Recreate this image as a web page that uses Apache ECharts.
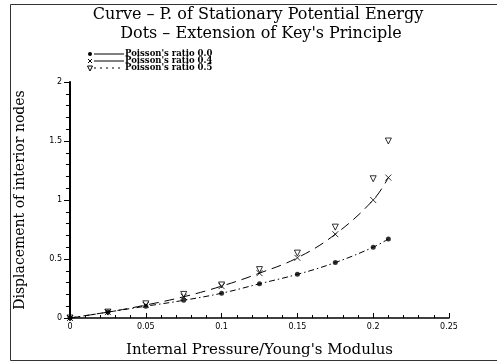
<!DOCTYPE html>
<html><head><meta charset="utf-8">
<script src="https://cdn.jsdelivr.net/npm/echarts@6/dist/echarts.min.js"></script>
<style>html,body{margin:0;padding:0;background:#fff}#c{width:497px;height:363px}</style>
</head><body><div id="c"></div>
<script>
const xValues = [0, 0.025, 0.05, 0.075, 0.1, 0.125, 0.15, 0.175, 0.2, 0.21];
const nu00 = [0, 0.05, 0.10, 0.15, 0.21, 0.29, 0.37, 0.47, 0.60, 0.67];
const nu04 = [0, 0.05, 0.11, 0.18, 0.27, 0.38, 0.51, 0.71, 1.00, 1.19];
const nu05 = [0, 0.05, 0.12, 0.20, 0.28, 0.41, 0.55, 0.77, 1.18, 1.50];
const legendNames = ["Poisson's ratio 0.0", "Poisson's ratio 0.4", "Poisson's ratio 0.5"];
const titleLines = ["Curve \u2013 P. of Stationary Potential Energy", "Dots \u2013 Extension of Key's Principle"];

const pairs = arr => xValues.map((x, i) => [x, arr[i]]);
const crossPath = 'path://M0,0L10,10M10,0L0,10';
const triPath = 'path://M0,0L10,0L5,10Z';

const chart = echarts.init(document.getElementById('c'), null, {renderer: 'canvas'});
const serif = 'DejaVu Serif';
const small = 'DejaVu Sans';

function legendRow(y, idx, dashed) {
  const els = [];
  els.push({type: 'line', shape: {x1: 94, y1: y, x2: 124, y2: y},
    style: {stroke: '#000', lineWidth: 1, lineDash: dashed ? [2, 4] : null}});
  els.push({type: 'text', left: 125, top: y - 5,
    style: {text: legendNames[idx], font: 'bold 8.5px "DejaVu Serif"', fill: '#000'}});
  return els;
}

const graphic = [
  {type: 'polyline', shape: {points: [[497, 4.5], [10.5, 4.5], [10.5, 360.5], [497, 360.5]]},
   style: {stroke: '#333', lineWidth: 1, fill: null}},
  {type: 'text', x: 258, y: 15, style: {text: titleLines[0], font: '16px "DejaVu Serif"', fill: '#000', align: 'center', verticalAlign: 'middle'}},
  {type: 'text', x: 261, y: 34, style: {text: titleLines[1], font: '16px "DejaVu Serif"', fill: '#000', align: 'center', verticalAlign: 'middle'}},
  {type: 'circle', shape: {cx: 90, cy: 54, r: 2}, style: {fill: '#000'}},
  {type: 'line', shape: {x1: 88, y1: 59, x2: 92, y2: 63}, style: {stroke: '#000', lineWidth: 1}},
  {type: 'line', shape: {x1: 92, y1: 59, x2: 88, y2: 63}, style: {stroke: '#000', lineWidth: 1}},
  {type: 'polygon', shape: {points: [[87.5, 66], [92.5, 66], [90, 71]]}, style: {fill: null, stroke: '#000', lineWidth: 1}},
  ...legendRow(54, 0, false),
  ...legendRow(61, 1, false),
  ...legendRow(68, 2, true)
];

chart.setOption({
  animation: false,
  backgroundColor: '#fff',
  graphic: graphic,
  grid: {left: 70, top: 82, right: 48, bottom: 45, containLabel: false},
  xAxis: {
    type: 'value', min: 0, max: 0.25, interval: 0.05,
    name: 'Internal Pressure/Young\'s Modulus', nameLocation: 'middle', nameGap: 25,
    nameTextStyle: {fontFamily: serif, fontSize: 15, color: '#000'},
    axisLine: {lineStyle: {color: '#000', width: 1.5}},
    axisTick: {inside: true, length: 5, lineStyle: {color: '#000'}},
    minorTick: {show: true, splitNumber: 5, length: 3, lineStyle: {color: '#000'}},
    splitLine: {show: false},
    axisLabel: {fontFamily: small, fontSize: 8, color: '#000', margin: 5}
  },
  yAxis: {
    type: 'value', min: 0, max: 2, interval: 0.5,
    name: 'Displacement of interior nodes', nameLocation: 'middle', nameGap: 43, nameRotate: 90,
    nameTextStyle: {fontFamily: serif, fontSize: 14, color: '#000'},
    axisLine: {lineStyle: {color: '#000', width: 2}},
    axisTick: {inside: false, length: 6, lineStyle: {color: '#000'}},
    minorTick: {show: true, splitNumber: 5, length: 4, lineStyle: {color: '#000'}},
    splitLine: {show: false},
    axisLabel: {fontFamily: small, fontSize: 8, color: '#000', margin: 8}
  },
  series: [
    {type: 'line', data: pairs(nu00), smooth: 0.4, showSymbol: false, silent: true,
     lineStyle: {color: '#000', width: 1, type: [6, 3, 1.5, 3]}},
    {type: 'line', data: pairs(nu04), smooth: 0.4, showSymbol: false, silent: true,
     lineStyle: {color: '#000', width: 1, type: [10, 6]}},
    {type: 'scatter', name: legendNames[0], data: pairs(nu00), symbol: 'circle', symbolSize: 5,
     itemStyle: {color: '#000'}},
    {type: 'scatter', name: legendNames[1], data: pairs(nu04), symbol: crossPath, symbolSize: 6,
     itemStyle: {color: 'none', borderColor: '#000', borderWidth: 1}},
    {type: 'scatter', name: legendNames[2], data: pairs(nu05), symbol: triPath, symbolSize: 6,
     itemStyle: {color: 'none', borderColor: '#000', borderWidth: 1}}
  ]
});
</script></body></html>
